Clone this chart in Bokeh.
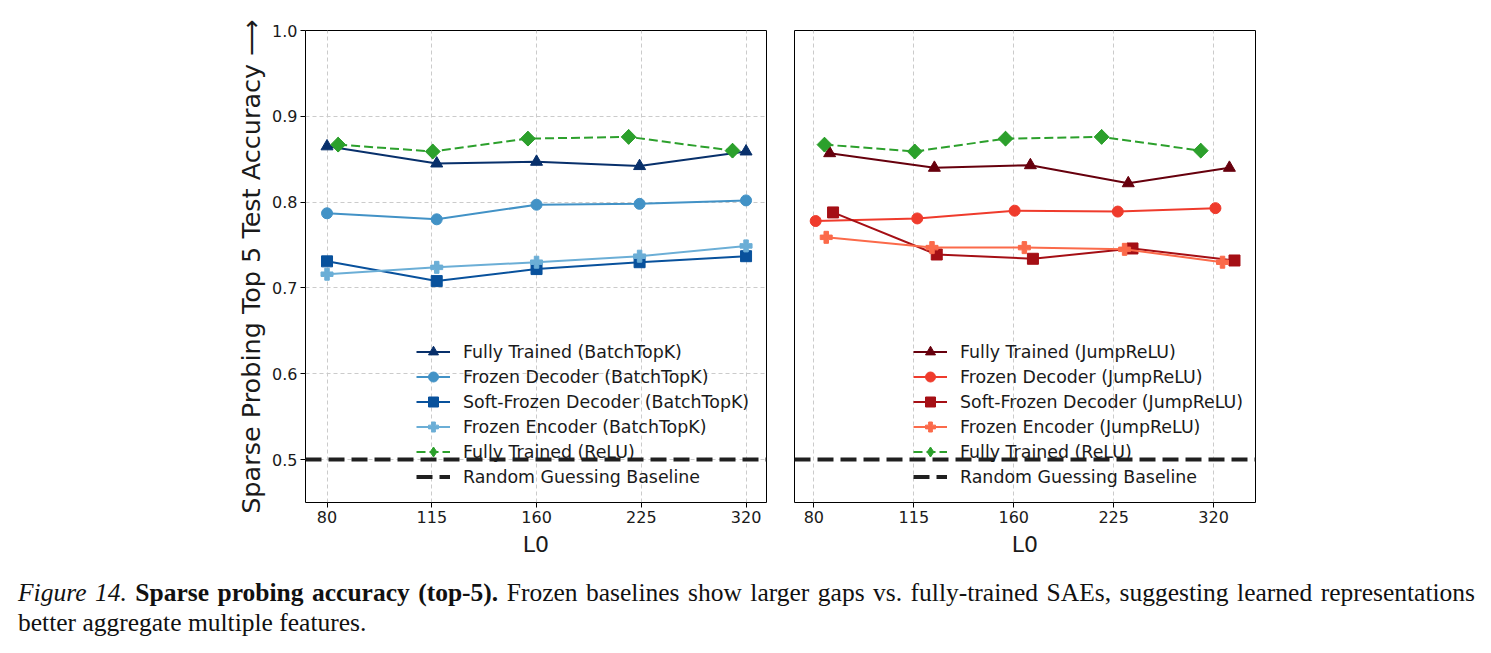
import math

from bokeh.embed import file_html
from bokeh.layouts import column, row
from bokeh.models import (Div, FixedTicker, Legend, LegendItem, PrintfTickFormatter,
                          Range1d, Span)
from bokeh.plotting import figure
from bokeh.resources import INLINE

# ---- axis ticks -------------------------------------------------------------
# L0 budgets sit on a half-octave grid; labels show the nominal budgets
l0_ticks = [80, 113.14, 160, 226.27, 320]
l0_tick_labels = ["80", "115", "160", "225", "320"]
acc_ticks = [0.5, 0.6, 0.7, 0.8, 0.9, 1.0]

# ---- BatchTopK runs (left panel) -------------------------------------------
batchtopk_l0 = [80, 115, 160, 225, 320]
batchtopk_fully_trained = [0.865, 0.845, 0.847, 0.842, 0.859]
batchtopk_frozen_decoder = [0.787, 0.780, 0.797, 0.798, 0.802]
batchtopk_soft_frozen_decoder = [0.731, 0.708, 0.722, 0.730, 0.737]
batchtopk_frozen_encoder = [0.716, 0.724, 0.730, 0.737, 0.749]

# ---- ReLU reference (both panels) ------------------------------------------
relu_l0 = [83, 113.5, 155.5, 217, 306]
relu_fully_trained = [0.867, 0.859, 0.874, 0.876, 0.860]

# ---- JumpReLU runs (right panel) -------------------------------------------
jumprelu_fully_trained_l0 = [84.5, 121.5, 169.5, 238, 338]
jumprelu_fully_trained = [0.857, 0.840, 0.843, 0.822, 0.840]
jumprelu_frozen_decoder_l0 = [80.5, 114.5, 160.5, 229.5, 322]
jumprelu_frozen_decoder = [0.778, 0.781, 0.790, 0.789, 0.793]
jumprelu_soft_frozen_decoder_l0 = [85.5, 122.5, 171, 241.5, 344]
jumprelu_soft_frozen_decoder = [0.788, 0.739, 0.734, 0.746, 0.732]
jumprelu_frozen_encoder_l0 = [83.5, 120.5, 166, 235, 330]
jumprelu_frozen_encoder = [0.759, 0.747, 0.747, 0.745, 0.730]

random_baseline = 0.5

FONT = "DejaVu Sans"
TEXT = "#1a1a1a"
GRID = "#cbcbcb"
BASE = "#202020"


def make_panel(width, border_left, border_right, x_range, show_y, show_ygrid):
    p = figure(width=width, height=578, x_axis_type="log",
               x_range=Range1d(*x_range), y_range=Range1d(0.45, 1.0),
               output_backend="svg", toolbar_location=None,
               min_border_left=border_left, min_border_right=border_right,
               min_border_top=30, min_border_bottom=76)
    p.outline_line_color = "black"
    p.outline_line_width = 1
    p.background_fill_color = "white"

    xt = FixedTicker(ticks=l0_ticks)
    p.xaxis.ticker = xt
    p.xgrid.ticker = xt
    p.xaxis.major_label_overrides = dict(zip(l0_ticks, l0_tick_labels))
    p.xaxis.axis_label = "L0"

    yt = FixedTicker(ticks=acc_ticks)
    p.yaxis.ticker = yt
    p.ygrid.ticker = yt
    p.yaxis.formatter = PrintfTickFormatter(format="%.1f")

    for ax in p.axis:
        ax.axis_line_color = None
        ax.major_tick_line_color = "black"
        ax.major_tick_out = 5
        ax.major_tick_in = 0
        ax.minor_tick_line_color = None
        ax.major_label_text_font = FONT
        ax.major_label_text_font_size = "16px"
        ax.major_label_text_color = TEXT
        ax.major_label_standoff = 3
        ax.axis_label_text_font = FONT
        ax.axis_label_text_font_style = "normal"
        ax.axis_label_text_color = TEXT
    p.xaxis.axis_label_text_font_size = "22px"
    p.xaxis.axis_label_standoff = 6

    if show_y:
        p.yaxis.axis_label = "Sparse Probing Top 5 Test Accuracy \u27f6"
        p.yaxis.axis_label_text_font_size = "25.5px"
        p.yaxis.axis_label_standoff = 3
    else:
        p.yaxis.visible = False

    for g in p.grid:
        g.grid_line_color = GRID
        g.grid_line_dash = "4 3"
        g.grid_line_width = 1
        g.minor_grid_line_color = None
    if not show_ygrid:
        p.ygrid.visible = False
    return p


def add_series(p, xs, ys, color, marker, size, label):
    line = p.line(xs, ys, line_color=color, line_width=2)
    pts = p.scatter(xs, ys, marker=marker, size=size, fill_color=color, line_color=color)
    return LegendItem(label=label, renderers=[line, pts])


def add_relu(p):
    color = "#2ca02c"
    line = p.line(relu_l0, relu_fully_trained, line_color=color, line_width=2,
                  line_dash="9 4")
    # narrow diamond used as the legend swatch (sits inside the plotted markers)
    swatch = p.scatter(relu_l0, relu_fully_trained, marker="diamond", size=14.5,
                       fill_color=color, line_color=color)
    # square diamonds (rotated squares) for the plotted points
    p.scatter(relu_l0, relu_fully_trained, marker="square", size=10.5,
              angle=math.pi / 4, fill_color=color, line_color=color)
    return LegendItem(label="Fully Trained (ReLU)", renderers=[line, swatch])


def add_baseline(p):
    p.add_layout(Span(location=random_baseline, dimension="width",
                      line_color=BASE, line_width=4, line_dash="16 7"))
    # single-point line: draws nothing in the frame, supplies the legend swatch
    swatch = p.line([l0_ticks[0]], [random_baseline], line_color=BASE,
                    line_width=4, line_dash="16 7")
    return LegendItem(label="Random Guessing Baseline", renderers=[swatch])


def add_legend(p, items, loc):
    p.add_layout(Legend(items=items, location=loc, orientation="vertical",
                        glyph_width=34, glyph_height=25, label_height=25,
                        spacing=0, padding=0, margin=0, label_standoff=13,
                        label_text_font=FONT, label_text_font_size="17.4px",
                        label_text_color=TEXT, border_line_color=None,
                        background_fill_alpha=0))


# ---- left panel: BatchTopK --------------------------------------------------
left = make_panel(780, 305, 14, (74.5, 342.4), True, True)
base_l = add_baseline(left)
left_items = [
    add_series(left, batchtopk_l0, batchtopk_fully_trained, "#08306b", "triangle", 12,
               "Fully Trained (BatchTopK)"),
    add_series(left, batchtopk_l0, batchtopk_frozen_decoder, "#4292c6", "circle", 11,
               "Frozen Decoder (BatchTopK)"),
    add_series(left, batchtopk_l0, batchtopk_soft_frozen_decoder, "#08519c", "square", 11,
               "Soft-Frozen Decoder (BatchTopK)"),
    add_series(left, batchtopk_l0, batchtopk_frozen_encoder, "#6baed6", "plus", 12,
               "Frozen Encoder (BatchTopK)"),
    add_relu(left),
    base_l,
]
add_legend(left, left_items, (111, 13))

# ---- right panel: JumpReLU --------------------------------------------------
right = make_panel(711, 14, 236, (74.8, 370.0), False, False)
base_r = add_baseline(right)
right_items = [
    add_series(right, jumprelu_fully_trained_l0, jumprelu_fully_trained, "#67000d",
               "triangle", 12, "Fully Trained (JumpReLU)"),
    add_series(right, jumprelu_frozen_decoder_l0, jumprelu_frozen_decoder, "#ef3b2c",
               "circle", 11, "Frozen Decoder (JumpReLU)"),
    add_series(right, jumprelu_soft_frozen_decoder_l0, jumprelu_soft_frozen_decoder,
               "#a50f15", "square", 11, "Soft-Frozen Decoder (JumpReLU)"),
    add_series(right, jumprelu_frozen_encoder_l0, jumprelu_frozen_encoder, "#fb6a4a",
               "plus", 12, "Frozen Encoder (JumpReLU)"),
    add_relu(right),
    base_r,
]
add_legend(right, right_items, (119, 13))

# ---- caption ----------------------------------------------------------------
caption_line1 = ("<i>Figure 14.</i> <b>Sparse probing accuracy (top-5).</b> Frozen baselines "
                 "show larger gaps vs. fully-trained SAEs, suggesting learned representations")
caption_line2 = "better aggregate multiple features."
caption = Div(
    text=(
        "<div style=\"font-family:'Liberation Serif';font-size:25.5px;line-height:30px;"
        "color:#111;padding-left:18px;\">"
        "<div style=\"width:1457px;text-align:justify;text-align-last:justify;"
        "white-space:nowrap;\">" + caption_line1 + "</div>"
        "<div>" + caption_line2 + "</div></div>"
    ),
    width=1491, height=70, margin=(0, 0, 0, 0),
)

layout = column(row(left, right, spacing=0), caption, spacing=0)

with open("out.html", "w") as f:
    f.write(file_html(layout, INLINE, title="Sparse probing accuracy"))
